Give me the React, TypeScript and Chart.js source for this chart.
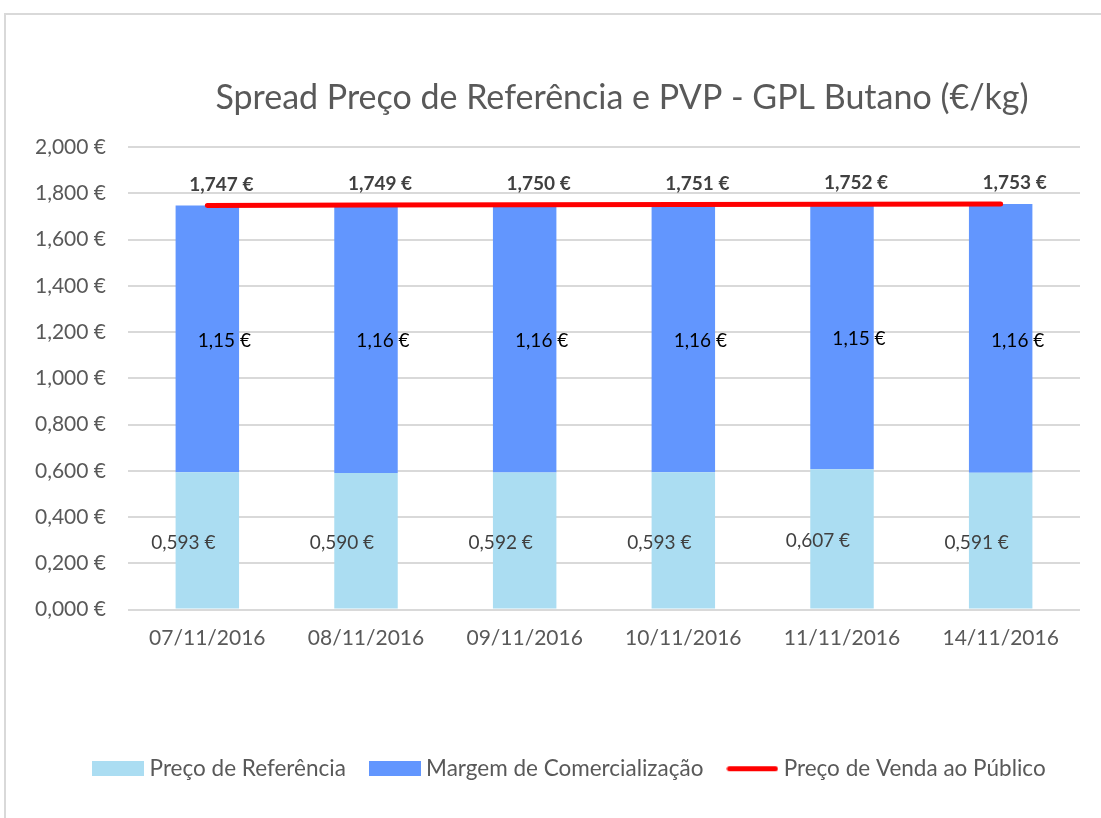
import React, { useEffect, useRef } from "react";
import { Chart, registerables } from "chart.js";

Chart.register(...registerables);

const TITLE = "Spread Preço de Referência e PVP - GPL Butano (€/kg)";
const categories = ["07/11/2016", "08/11/2016", "09/11/2016", "10/11/2016", "11/11/2016", "14/11/2016"];
const seriesNames = ["Preço de Referência", "Margem de Comercialização", "Preço de Venda ao Público"];
const refPrice = [0.593, 0.59, 0.592, 0.593, 0.607, 0.591];
const marginValues = [1.154, 1.159, 1.158, 1.158, 1.145, 1.162];
const pvpValues = [1.747, 1.749, 1.75, 1.751, 1.752, 1.753];
const yMin = 0;
const yMax = 2;
const yStep = 0.2;

const COLORS = {
  ref: "#ABDDF2",
  margin: "#6296FE",
  line: "#FF0000",
  grid: "#D9D9D9",
  text: "#595959",
  label: "#404040",
};
const FONT = "Lato, 'Open Sans', sans-serif";

const fmt = (v: number, d: number) => (v + 1e-9).toFixed(d).replace(".", ",") + " €";

function makeIcon(kind: "ref" | "margin" | "line") {
  const c = document.createElement("canvas");
  c.width = 52;
  c.height = 15;
  const ctx = c.getContext("2d")!;
  if (kind === "line") {
    ctx.strokeStyle = COLORS.line;
    ctx.lineWidth = 5;
    ctx.lineCap = "round";
    ctx.beginPath();
    ctx.moveTo(3, 7.5);
    ctx.lineTo(49, 7.5);
    ctx.stroke();
  } else {
    ctx.fillStyle = kind === "ref" ? COLORS.ref : COLORS.margin;
    ctx.fillRect(0, 0, 52, 15);
  }
  return c;
}

const titlePlugin = {
  id: "customTitle",
  afterDraw(chart: any) {
    const { ctx, chartArea } = chart;
    ctx.save();
    ctx.font = `34px ${FONT}`;
    ctx.fillStyle = COLORS.text;
    ctx.textAlign = "center";
    ctx.textBaseline = "middle";
    ctx.fillText(TITLE, (chartArea.left + chartArea.right) / 2 + 18, chartArea.top - 49);
    ctx.restore();
  },
};

// shift the legend so it is centred like the reference
const legendShiftPlugin = {
  id: "legendShift",
  afterLayout(chart: any) {
    const lg = chart.legend;
    if (lg) {
      lg.left += 36;
    }
  },
};

const labelsPlugin = {
  id: "valueLabels",
  afterDatasetsDraw(chart: any) {
    const ctx = chart.ctx;
    ctx.save();
    ctx.textAlign = "center";
    ctx.textBaseline = "middle";
    const m0 = chart.getDatasetMeta(0);
    const m1 = chart.getDatasetMeta(1);
    const m2 = chart.getDatasetMeta(2);
    ctx.font = `19px ${FONT}`;
    ctx.fillStyle = COLORS.label;
    m0.data.forEach((el: any, i: number) => {
      ctx.fillText(fmt(refPrice[i], 3), el.x - 24, (el.y + el.base) / 2 + 2);
    });
    ctx.fillStyle = "#000000";
    m1.data.forEach((el: any, i: number) => {
      ctx.fillText(fmt(marginValues[i], 2), el.x + 17, (el.y + el.base) / 2 + 2);
    });
    ctx.font = `bold 19px ${FONT}`;
    ctx.fillStyle = COLORS.label;
    m2.data.forEach((el: any, i: number) => {
      ctx.fillText(fmt(pvpValues[i], 3), el.x + 14, el.y - 21);
    });
    ctx.restore();
  },
};

export default function App() {
  const canvasRef = useRef<HTMLCanvasElement | null>(null);

  useEffect(() => {
    if (!canvasRef.current) return;
    const icons = [makeIcon("ref"), makeIcon("margin"), makeIcon("line")];
    const chart = new Chart(canvasRef.current, {
      type: "bar",
      data: {
        labels: categories,
        datasets: [
          {
            type: "bar",
            label: seriesNames[0],
            data: refPrice,
            backgroundColor: COLORS.ref,
            order: 1,
            stack: "bars",
            categoryPercentage: 0.8,
            barPercentage: 0.5,
          },
          {
            type: "bar",
            label: seriesNames[1],
            data: marginValues,
            backgroundColor: COLORS.margin,
            order: 1,
            stack: "bars",
            categoryPercentage: 0.8,
            barPercentage: 0.5,
          },
          {
            type: "line",
            label: seriesNames[2],
            data: pvpValues,
            borderColor: COLORS.line,
            backgroundColor: COLORS.line,
            borderWidth: 5,
            borderCapStyle: "round",
            pointRadius: 0,
            pointHoverRadius: 0,
            order: 0,
            stack: "pvp",
            tension: 0,
          },
        ],
      } as any,
      options: {
        responsive: false,
        animation: false,
        layout: { padding: { left: 28, right: 21, top: 147, bottom: 28 } },
        plugins: {
          title: { display: false },
          tooltip: { enabled: false },
          legend: {
            position: "bottom",
            labels: {
              usePointStyle: true,
              pointStyleWidth: 40,
              boxHeight: 15,
              padding: 29,
              color: COLORS.text,
              font: { family: FONT, size: 22.5 },
              sort: (a: any, b: any) => a.datasetIndex - b.datasetIndex,
              generateLabels: (c: any) =>
                (Chart.defaults.plugins.legend.labels as any).generateLabels(c).map((item: any) => ({
                  ...item,
                  pointStyle: icons[item.datasetIndex],
                  lineWidth: 0,
                })),
            },
          },
        },
        scales: {
          x: {
            stacked: true,
            grid: { display: false },
            border: { display: false },
            ticks: { color: COLORS.text, font: { family: FONT, size: 21 }, padding: 8, maxRotation: 0 },
            afterFit: (s: any) => {
              s.height = 119;
            },
          },
          y: {
            stacked: true,
            min: yMin,
            max: yMax,
            border: { display: false },
            grid: { color: COLORS.grid, lineWidth: 2, drawTicks: false },
            ticks: {
              stepSize: yStep,
              color: COLORS.text,
              font: { family: FONT, size: 21 },
              padding: 22,
              callback: (v: any) => fmt(Number(v), 3),
            },
            afterFit: (s: any) => {
              s.width = 100;
            },
          },
        },
      } as any,
      plugins: [titlePlugin, labelsPlugin, legendShiftPlugin],
    });
    return () => chart.destroy();
  }, []);

  return (
    <div style={{ position: "fixed", left: 0, top: 0, width: 1101, height: 818, background: "#fff", overflow: "hidden" }}>
      <div
        style={{
          position: "absolute",
          left: 4,
          top: 13,
          width: 1120,
          height: 820,
          border: "2px solid #D9D9D9",
          boxSizing: "border-box",
        }}
      />
      <canvas ref={canvasRef} width={1101} height={818} style={{ position: "absolute", left: 0, top: 0 }} />
    </div>
  );
}
